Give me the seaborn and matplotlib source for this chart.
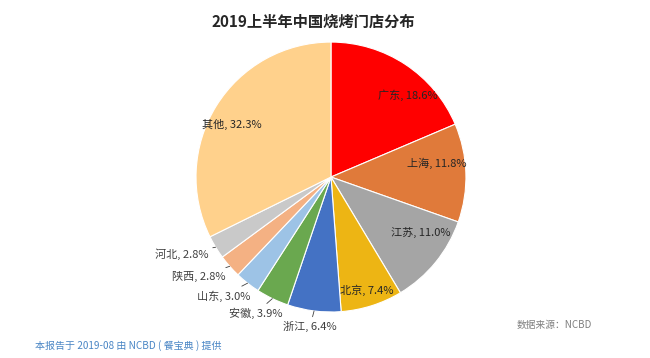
import numpy as np
import matplotlib
matplotlib.use('Agg')
import matplotlib.pyplot as plt
import seaborn as sns

# data
regions = ['广东', '上海', '江苏', '北京', '浙江', '安徽', '山东', '陕西', '河北', '其他']
shares = [18.6, 11.8, 11.0, 7.4, 6.4, 3.9, 3.0, 2.8, 2.8, 32.3]
colors = ['#FF0000', '#E07A3A', '#A5A5A5', '#EDB514', '#4472C4',
          '#6AA84F', '#9DC3E6', '#F4B183', '#C9C9C9', '#FFD18C']

sns.set_theme(style='white')
plt.rcParams['font.family'] = ['Noto Sans CJK SC', 'DejaVu Sans']

fig = plt.figure(figsize=(6.5, 3.58), dpi=100)
fig.patch.set_facecolor('white')
ax = fig.add_axes([0.3015, 0.1285, 0.4154, 0.754])

wedges, _ = ax.pie(shares, colors=colors, startangle=90, counterclock=False,
                   wedgeprops=dict(linewidth=0.8, edgecolor='white'))
ax.set_xlim(-1, 1)
ax.set_ylim(-1, 1)
ax.set_aspect('equal')

# inside labels: (radius, angle shift in degrees) like Excel "best fit"
inside = {'广东': (0.83, -9.5), '上海': (0.79, 5.5), '江苏': (0.78, 7.4),
          '北京': (0.88, 0.0), '其他': (0.83, 4.0)}
# outside labels: text anchor (right edge / centre) in data units
outside = {'浙江': (-0.156, -1.11), '安徽': (-0.36, -1.01), '山东': (-0.60, -0.88),
           '陕西': (-0.78, -0.74), '河北': (-0.91, -0.57)}

for w, name, v in zip(wedges, regions, shares):
    mid = (w.theta1 + w.theta2) / 2
    lab = f'{name}, {v:.1f}%'
    if name in outside:
        m = np.deg2rad(mid)
        tx, ty = outside[name]
        ax.annotate(lab, xy=(np.cos(m), np.sin(m)), xytext=(tx, ty), fontsize=8,
                    color='#404040', ha='center' if name == '浙江' else 'right',
                    va='center',
                    arrowprops=dict(arrowstyle='-', color='#404040', lw=0.6,
                                    shrinkA=1, shrinkB=0),
                    annotation_clip=False)
    else:
        r, d = inside[name]
        a = np.deg2rad(mid + d)
        ax.text(r * np.cos(a), r * np.sin(a), lab, fontsize=8, color='#262626',
                ha='center', va='center')

fig.text(0.482, 0.94, '2019上半年中国烧烤门店分布', fontsize=11, fontweight='bold',
         color='#262626', ha='center', va='center')
fig.text(0.054, 0.034, '本报告于 2019-08 由 NCBD ( 餐宝典 ) 提供', fontsize=7.2,
         color='#4A86C5', ha='left', va='center')
fig.text(0.795, 0.092, '数据来源：NCBD', fontsize=7, color='#7F7F7F',
         ha='left', va='center')

fig.savefig('out.png', dpi=100, facecolor='white')
